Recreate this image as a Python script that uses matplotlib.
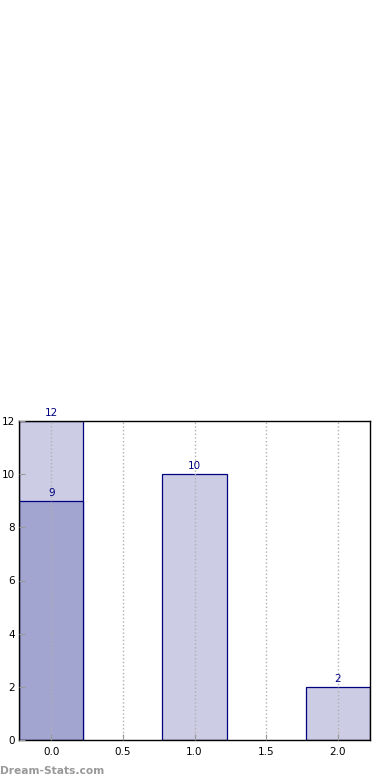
import matplotlib
matplotlib.use("Agg")
import matplotlib.pyplot as plt

# data
positions = [0, 1, 2]
totals = [12, 10, 2]
highlight_pos = [0]
highlight_vals = [9]
xticks = [0.0, 0.5, 1.0, 1.5, 2.0]
yticks = [0, 2, 4, 6, 8, 10, 12]

light = "#ccccE4"
dark = "#a3a5d1"
edge = "#000080"

fig = plt.figure(figsize=(3.9, 7.8), dpi=100)
ax = fig.add_axes([19 / 390, 1 - 740 / 780, 351 / 390, 319 / 780])

ax.bar(positions, totals, width=0.45, color=light, edgecolor=edge, linewidth=0.9, zorder=1)
ax.bar(highlight_pos, highlight_vals, width=0.45, color=dark, edgecolor=edge, linewidth=0.9, zorder=2)

for x, v in zip(positions, totals):
    ax.text(x, v + 0.12, str(v), ha="center", va="bottom", color=edge, fontsize=7.5, zorder=5)
for x, v in zip(highlight_pos, highlight_vals):
    ax.text(x, v + 0.12, str(v), ha="center", va="bottom", color=edge, fontsize=7.5, zorder=5)

ax.set_xlim(-0.225, 2.225)
ax.set_ylim(0, 12)
ax.set_xticks(xticks)
ax.set_xticklabels(["%.1f" % t for t in xticks])
ax.set_yticks(yticks)
ax.tick_params(axis="both", direction="in", length=4, color="#999999", labelsize=7.5, labelcolor="black")
ax.tick_params(axis="x", pad=5)
ax.tick_params(axis="y", pad=3)
ax.grid(axis="x", linestyle=":", color="#b0b0b0", linewidth=1.0, zorder=3)
ax.set_axisbelow(False)
for s in ax.spines.values():
    s.set_color("black")
    s.set_linewidth(1.0)

fig.text(0.0, 1 - 771 / 780, "Dream-Stats.com", color="#999999", fontsize=7.7,
         fontweight="bold", ha="left", va="center")

fig.savefig("out.png", dpi=100)
